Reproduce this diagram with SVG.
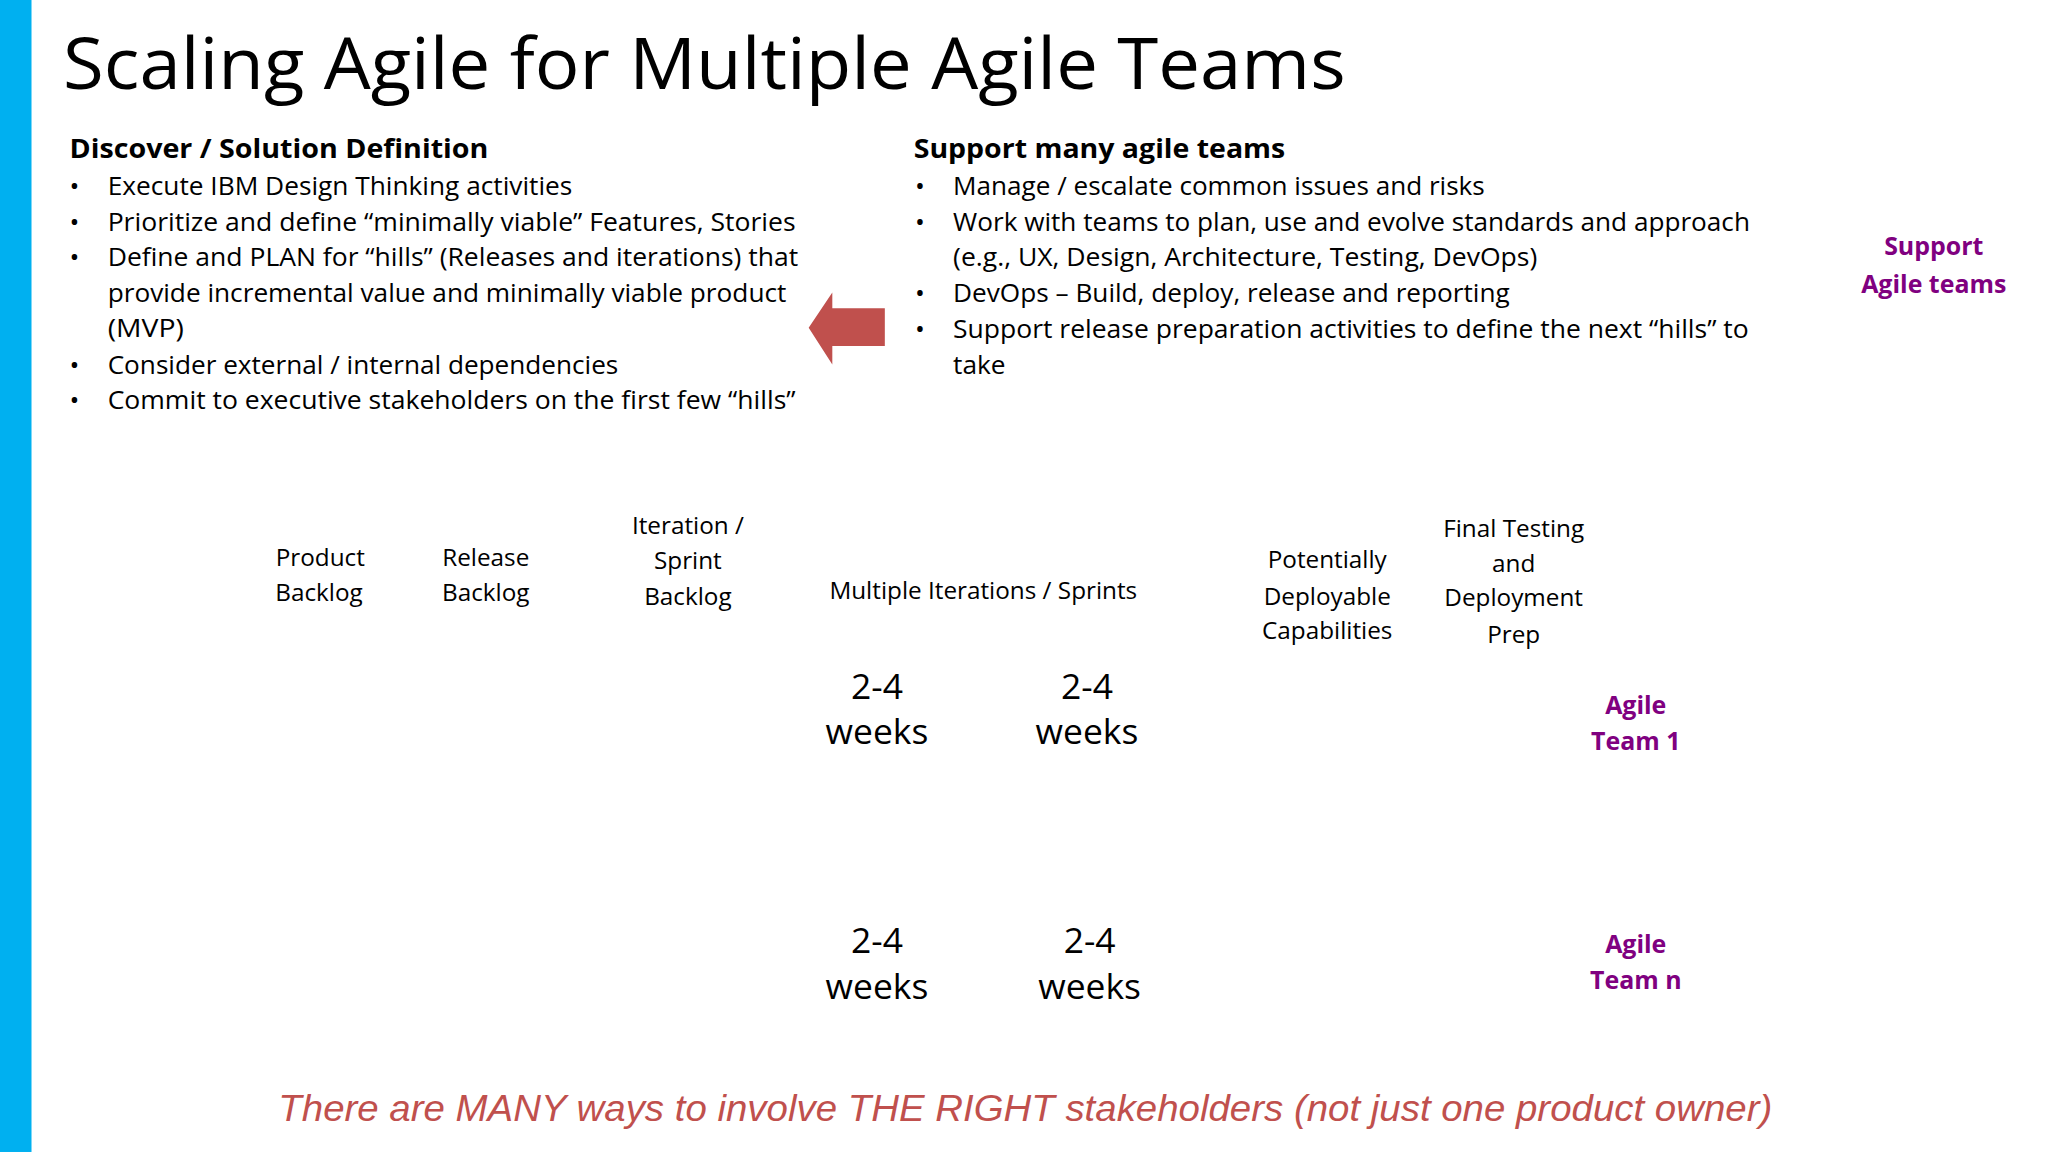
<svg xmlns="http://www.w3.org/2000/svg" width="2048" height="1152" viewBox="0 0 2048 1152">
<style>
text{font-family:"Open Sans","Noto Sans","Liberation Sans",sans-serif;fill:#000}
.b{font-size:19px}
.h{font-size:20px;font-weight:bold}
.l{font-size:18.5px;text-anchor:middle}
.w{font-size:27px;text-anchor:middle}
.p{font-size:19px;font-weight:bold;fill:#800080;text-anchor:middle}
</style>
<rect width="2048" height="1152" fill="#fff"/>
<g transform="scale(1.3128 1.3061)">
<rect x="0" y="0" width="24" height="882" fill="#00B0F0"/>
<g id="title"><text x="48" y="68" font-size="54" textLength="977" lengthAdjust="spacingAndGlyphs">Scaling Agile for Multiple Agile Teams</text></g>
<g id="discover">
<text class="h" x="53" y="121" textLength="319" lengthAdjust="spacingAndGlyphs">Discover / Solution Definition</text>
<g font-size="20"><text x="53" y="149">•</text><text x="53" y="177">•</text><text x="53" y="204">•</text><text x="53" y="286">•</text><text x="53" y="313">•</text></g>
<text class="b" x="82" y="149" textLength="354" lengthAdjust="spacingAndGlyphs">Execute IBM Design Thinking activities</text>
<text class="b" x="82" y="177" textLength="524" lengthAdjust="spacingAndGlyphs">Prioritize and define “minimally viable” Features, Stories</text>
<text class="b" x="82" y="204" textLength="526" lengthAdjust="spacingAndGlyphs">Define and PLAN for “hills” (Releases and iterations) that</text>
<text class="b" x="82" y="231" textLength="517" lengthAdjust="spacingAndGlyphs">provide incremental value and minimally viable product</text>
<text class="b" x="82" y="258" textLength="58" lengthAdjust="spacingAndGlyphs">(MVP)</text>
<text class="b" x="82" y="286" textLength="389" lengthAdjust="spacingAndGlyphs">Consider external / internal dependencies</text>
<text class="b" x="82" y="313" textLength="524" lengthAdjust="spacingAndGlyphs">Commit to executive stakeholders on the first few “hills”</text>
</g>
<g id="arrow"><polygon points="674,236 634,236 634,224 616,251 634,279 634,265 674,265" fill="#C0504D"/></g>
<g id="support">
<text class="h" x="696" y="121" textLength="283" lengthAdjust="spacingAndGlyphs">Support many agile teams</text>
<g font-size="20"><text x="697" y="149">•</text><text x="697" y="177">•</text><text x="697" y="231">•</text><text x="697" y="259">•</text></g>
<text class="b" x="726" y="149" textLength="405" lengthAdjust="spacingAndGlyphs">Manage / escalate common issues and risks</text>
<text class="b" x="726" y="177" textLength="607" lengthAdjust="spacingAndGlyphs">Work with teams to plan, use and evolve standards and approach</text>
<text class="b" x="726" y="204" textLength="445" lengthAdjust="spacingAndGlyphs">(e.g., UX, Design, Architecture, Testing, DevOps)</text>
<text class="b" x="726" y="231" textLength="424" lengthAdjust="spacingAndGlyphs">DevOps – Build, deploy, release and reporting</text>
<text class="b" x="726" y="259" textLength="606" lengthAdjust="spacingAndGlyphs">Support release preparation activities to define the next “hills” to</text>
<text class="b" x="726" y="286" textLength="40" lengthAdjust="spacingAndGlyphs">take</text>
</g>
<g id="supportAgile"><text class="p" x="1473" y="195">Support</text><text class="p" x="1473" y="224">Agile teams</text></g>
<g id="product"><text class="l" x="244" y="433">Product</text><text class="l" x="243" y="460">Backlog</text></g>
<g id="release"><text class="l" x="370" y="433">Release</text><text class="l" x="370" y="460">Backlog</text></g>
<g id="iteration"><text class="l" x="524" y="409">Iteration /</text><text class="l" x="524" y="436">Sprint</text><text class="l" x="524" y="463">Backlog</text></g>
<g id="multiple"><text class="l" x="749" y="459">Multiple Iterations / Sprints</text></g>
<g id="potential"><text class="l" x="1011" y="435">Potentially</text><text class="l" x="1011" y="463">Deployable</text><text class="l" x="1011" y="489">Capabilities</text></g>
<g id="final"><text class="l" x="1153" y="411">Final Testing</text><text class="l" x="1153" y="438">and</text><text class="l" x="1153" y="464">Deployment</text><text class="l" x="1153" y="492">Prep</text></g>
<g id="w1"><text class="w" x="668" y="535">2-4</text><text class="w" x="668" y="570">weeks</text></g>
<g id="w2"><text class="w" x="828" y="535">2-4</text><text class="w" x="828" y="570">weeks</text></g>
<g id="w3"><text class="w" x="668" y="730">2-4</text><text class="w" x="668" y="765">weeks</text></g>
<g id="w4"><text class="w" x="830" y="730">2-4</text><text class="w" x="830" y="765">weeks</text></g>
<g id="team1"><text class="p" x="1246" y="547">Agile</text><text class="p" x="1246" y="574">Team 1</text></g>
<g id="teamn"><text class="p" x="1246" y="730">Agile</text><text class="p" x="1246" y="757">Team n</text></g>
<g id="note"><text x="212" y="858" font-size="28" font-style="italic" style="fill:#C0504D;font-family:'Liberation Sans',sans-serif" textLength="1138" lengthAdjust="spacingAndGlyphs">There are MANY ways to involve THE RIGHT stakeholders (not just one product owner)</text></g>
<g id="connectors"/>
</g>
</svg>
